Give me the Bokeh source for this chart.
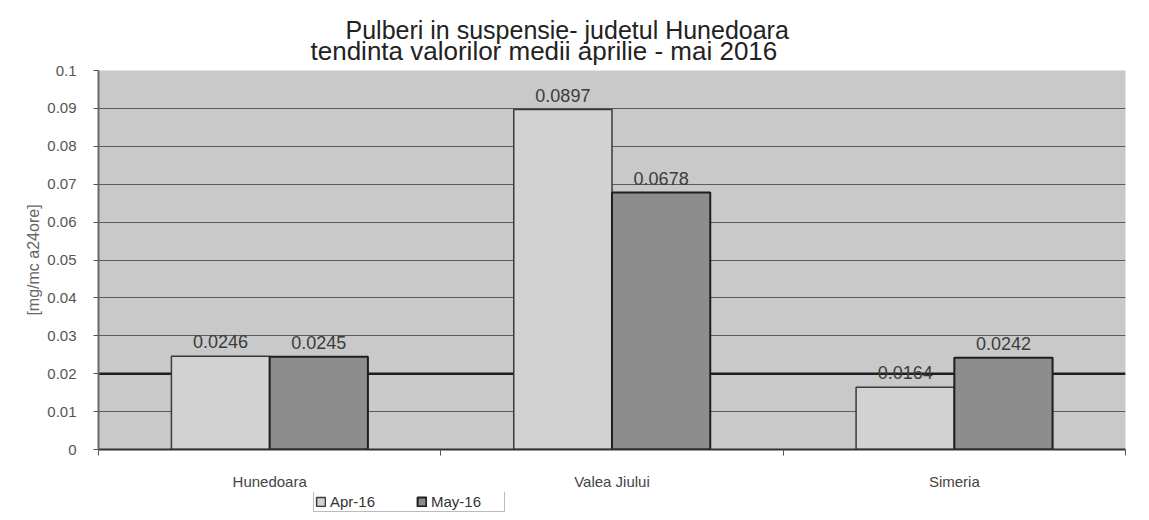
from bokeh.plotting import figure
from bokeh.layouts import column
from bokeh.models import (Range1d, FixedTicker, ColumnDataSource, LabelSet, Span, Title,
                          Legend, LegendItem, CustomJSTickFormatter, NumeralTickFormatter)
from bokeh.transform import dodge
from bokeh.core.properties import value
from bokeh.embed import file_html
from bokeh.resources import INLINE

# ---- data ----
categories = ["Hunedoara", "Valea Jiului", "Simeria"]
series_names = ["Apr-16", "May-16"]
apr16 = [0.0246, 0.0897, 0.0164]
may16 = [0.0245, 0.0678, 0.0242]
y_ticks = [0, 0.01, 0.02, 0.03, 0.04, 0.05, 0.06, 0.07, 0.08, 0.09, 0.1]
y_tick_labels = ["0", "0.01", "0.02", "0.03", "0.04", "0.05", "0.06", "0.07", "0.08", "0.09", "0.1"]
limit_value = 0.02
title_lines = ["Pulberi in suspensie- judetul Hunedoara",
               "tendinta valorilor medii aprilie - mai 2016"]
y_label = "[mg/mc a24ore]"

FONT = "Liberation Sans"
BG = "#c9c9c9"
APR_COLOR = "#d2d2d2"
MAY_COLOR = "#8d8d8d"
APR_LINE = "#3a3a3a"
MAY_LINE = "#1e1e1e"

centers = [i + 0.5 for i in range(len(categories))]
bounds = list(range(len(categories) + 1))

src = ColumnDataSource(dict(
    x=centers,
    apr=apr16,
    may=may16,
    apr_t=[f"{v:.4f}" for v in apr16],
    may_t=[f"{v:.4f}" for v in may16],
))

W = 1141
H_MAIN = 492
H_LEG = 20

p = figure(width=W, height=H_MAIN, output_backend="svg", toolbar_location=None,
           x_range=Range1d(0, len(categories)), y_range=Range1d(y_ticks[0], y_ticks[-1]),
           min_border_left=98, min_border_right=16, min_border_top=70, min_border_bottom=34)

p.background_fill_color = BG
p.border_fill_color = "white"
p.outline_line_color = None

# grid
p.xgrid.visible = False
p.ygrid.ticker = FixedTicker(ticks=y_ticks[1:-1])
p.ygrid.grid_line_color = "#5a5a5a"
p.ygrid.grid_line_width = 1

# limit line (behind bars)
p.add_layout(Span(location=limit_value, dimension="width", line_color="#1e1e1e",
                  line_width=2.5, level="underlay"))

bw = 0.287
r_apr = p.vbar(x=dodge("x", -bw / 2, range=p.x_range), top="apr", width=bw, source=src,
               fill_color=APR_COLOR, line_color=APR_LINE, line_width=1.5)
r_may = p.vbar(x=dodge("x", bw / 2, range=p.x_range), top="may", width=bw, source=src,
               fill_color=MAY_COLOR, line_color=MAY_LINE, line_width=2)

lbl_kw = dict(text_font=value(FONT), text_font_size="18px", text_color="#3c3c3c",
              text_align="center", text_baseline="alphabetic", y_offset=8, source=src)
p.add_layout(LabelSet(x=dodge("x", -bw / 2, range=p.x_range), y="apr", text="apr_t", **lbl_kw))
p.add_layout(LabelSet(x=dodge("x", bw / 2, range=p.x_range), y="may", text="may_t", **lbl_kw))

# y axis
ya = p.yaxis[0]
ya.ticker = FixedTicker(ticks=y_ticks)
ya.formatter = NumeralTickFormatter(format="0.[00]")
ya.major_label_overrides = dict(zip(y_ticks, y_tick_labels))
ya.minor_tick_line_color = None
ya.major_tick_in = 0
ya.major_tick_out = 5
ya.major_tick_line_color = "#555555"
ya.axis_line_color = "#6a6a6a"
ya.axis_line_width = 2
ya.major_label_standoff = 17
ya.major_label_text_font = FONT
ya.major_label_text_font_size = "15px"
ya.major_label_text_color = "#555555"
ya.axis_label = y_label
ya.axis_label_text_font = FONT
ya.axis_label_text_font_size = "16px"
ya.axis_label_text_font_style = "normal"
ya.axis_label_text_color = "#666666"
ya.axis_label_standoff = 2

# x axis
xa = p.xaxis[0]
xa.ticker = FixedTicker(ticks=centers, minor_ticks=bounds)
xa.formatter = CustomJSTickFormatter(args=dict(cats=categories),
                                     code="return cats[Math.floor(tick)];")
xa.major_tick_in = 0
xa.major_tick_out = 0
xa.minor_tick_in = 0
xa.minor_tick_out = 6
xa.minor_tick_line_color = "#555555"
xa.axis_line_color = "#303030"
xa.axis_line_width = 2
xa.major_label_standoff = 17
xa.major_label_text_font = FONT
xa.major_label_text_font_size = "15px"
xa.major_label_text_color = "#444444"

# title: p.title is the upper line, the added Title sits next to the frame
p.title.text = title_lines[0]
p.title.text_font = FONT
p.title.text_font_size = "25px"
p.title.text_color = "#222222"
p.title.text_font_style = "normal"
p.title.align = "left"
p.title.offset = 247
p.title.standoff = -30
p.add_layout(Title(text=title_lines[1], offset=212, standoff=10, text_font=FONT,
                   text_font_size="26px", text_color="#222222", text_font_style="normal",
                   align="left"), "above")

# legend strip below the chart (its frame is aligned with the chart's frame)
pl = figure(width=W, height=H_LEG, output_backend="svg", toolbar_location=None,
            x_range=Range1d(0, 1), y_range=Range1d(0, 1),
            x_axis_location=None, y_axis_location=None,
            min_border=0, min_border_left=0, min_border_right=0,
            min_border_top=0, min_border_bottom=0)
pl.outline_line_color = None
pl.background_fill_color = "white"
pl.border_fill_color = "white"
pl.xgrid.visible = False
pl.ygrid.visible = False
nan = float("nan")
la = pl.vbar(x=[nan], top=[nan], width=0.1, fill_color=APR_COLOR, line_color=APR_LINE, line_width=1.5)
lm = pl.vbar(x=[nan], top=[nan], width=0.1, fill_color=MAY_COLOR, line_color=MAY_LINE, line_width=2)
legend = Legend(items=[LegendItem(label=series_names[0], renderers=[la]),
                       LegendItem(label=series_names[1], renderers=[lm])],
                orientation="horizontal", location=(215, 0),
                label_text_font=FONT, label_text_font_size="15px", label_text_color="#333333",
                border_line_color="#777777", border_line_width=1,
                background_fill_color="white", background_fill_alpha=1,
                glyph_width=11, glyph_height=11, label_height=12, label_width=72,
                label_standoff=4, padding=1, spacing=14, margin=0)
pl.add_layout(legend, "center")

layout = column(p, pl, spacing=0)
open("out.html", "w").write(file_html(layout, INLINE))
